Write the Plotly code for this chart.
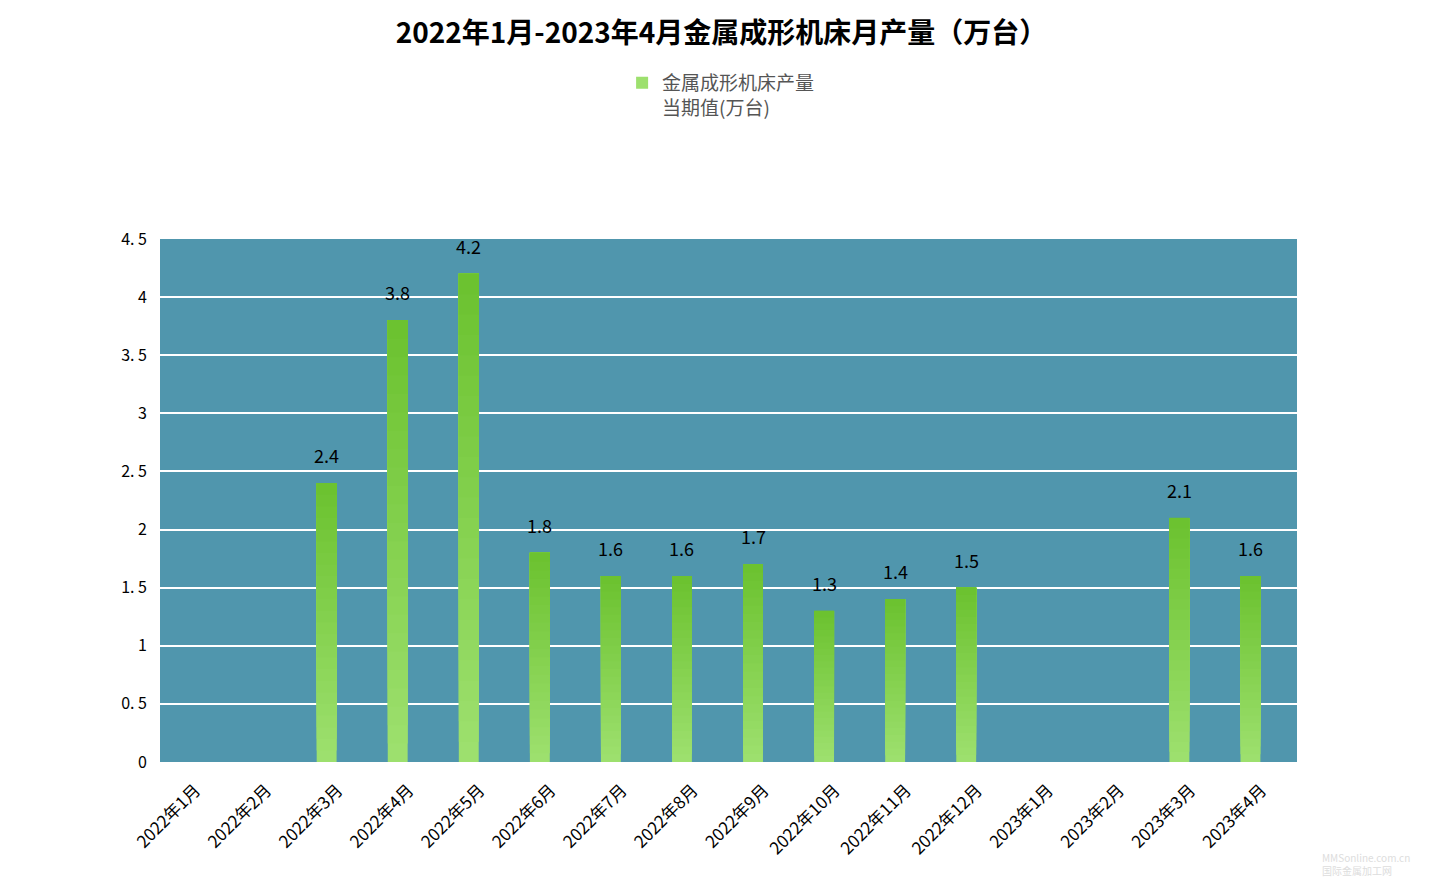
import plotly.graph_objects as go

categories = ["2022年1月", "2022年2月", "2022年3月", "2022年4月", "2022年5月", "2022年6月",
              "2022年7月", "2022年8月", "2022年9月", "2022年10月", "2022年11月", "2022年12月",
              "2023年1月", "2023年2月", "2023年3月", "2023年4月"]
values = [None, None, 2.4, 3.8, 4.2, 1.8, 1.6, 1.6, 1.7, 1.3, 1.4, 1.5, None, None, 2.1, 1.6]
tick_vals = [0, 0.5, 1, 1.5, 2, 2.5, 3, 3.5, 4, 4.5]
tick_text = ["0", "0. 5", "1", "1. 5", "2", "2. 5", "3", "3. 5", "4", "4. 5"]

series_name = "金属成形机床产量<br>当期值(万台)"
FONT = "Noto Sans CJK SC, Noto Sans, sans-serif"

light = (157, 224, 110)
dark = (108, 194, 48)
N = 24
BAR_W = 0.28
SHIFT = -0.155  # bars sit left of category centre

fig = go.Figure()
for i in range(N):
    t = i / (N - 1)
    c = tuple(round(light[k] + (dark[k] - light[k]) * t) for k in range(3))
    base = [None if v is None else v * i / N for v in values]
    h = [None if v is None else v - v * i / N for v in values]
    fig.add_trace(go.Bar(
        x=categories, y=h, base=base,
        marker=dict(color="rgb(%d,%d,%d)" % c, line=dict(width=0)),
        width=BAR_W, offset=-BAR_W / 2 + SHIFT, name=series_name,
        showlegend=(i == 0), hoverinfo="skip",
        legendgroup="g",
    ))

for cat, v in zip(categories, values):
    if v is None:
        continue
    fig.add_annotation(x=cat, y=v, text=str(v), showarrow=False, yanchor="bottom",
                       yshift=13, xshift=-11, font=dict(size=18, color="#000", family=FONT))

fig.add_annotation(xref="paper", yref="paper", x=1.02, y=-0.165, xanchor="left", yanchor="top",
                   text="MMSonline.com.cn<br>国际金属加工网", showarrow=False, align="left",
                   font=dict(size=10, color="#dddddd", family=FONT))

fig.update_layout(
    width=1443, height=886,
    barmode="overlay",
    paper_bgcolor="white",
    plot_bgcolor="#5096AD",
    margin=dict(l=160, r=146, t=239, b=124),
    title=dict(text="<b>2022年1月-2023年4月金属成形机床月产量（万台）</b>",
               x=0.5, xanchor="center", y=0.963, yanchor="middle",
               font=dict(size=28, color="#000", family=FONT)),
    legend=dict(orientation="h", x=0.4935, xanchor="center", y=0.928, yref="container",
                yanchor="top", valign="top", font=dict(size=19, color="#555", family=FONT),
                bgcolor="rgba(0,0,0,0)"),
    font=dict(family=FONT),
)
fig.update_xaxes(showgrid=False, tickangle=-45, tickfont=dict(size=17, color="#000", family=FONT),
                 showline=False, ticks="", zeroline=False, ticklabelstandoff=14)
fig.update_yaxes(range=[0, 4.5], tickvals=tick_vals, ticktext=tick_text, showgrid=True,
                 gridcolor="white", gridwidth=2, zeroline=False, showline=False,
                 tickfont=dict(size=16, color="#000", family=FONT), ticks="", ticklabelstandoff=12)

fig.write_html("out.html")
